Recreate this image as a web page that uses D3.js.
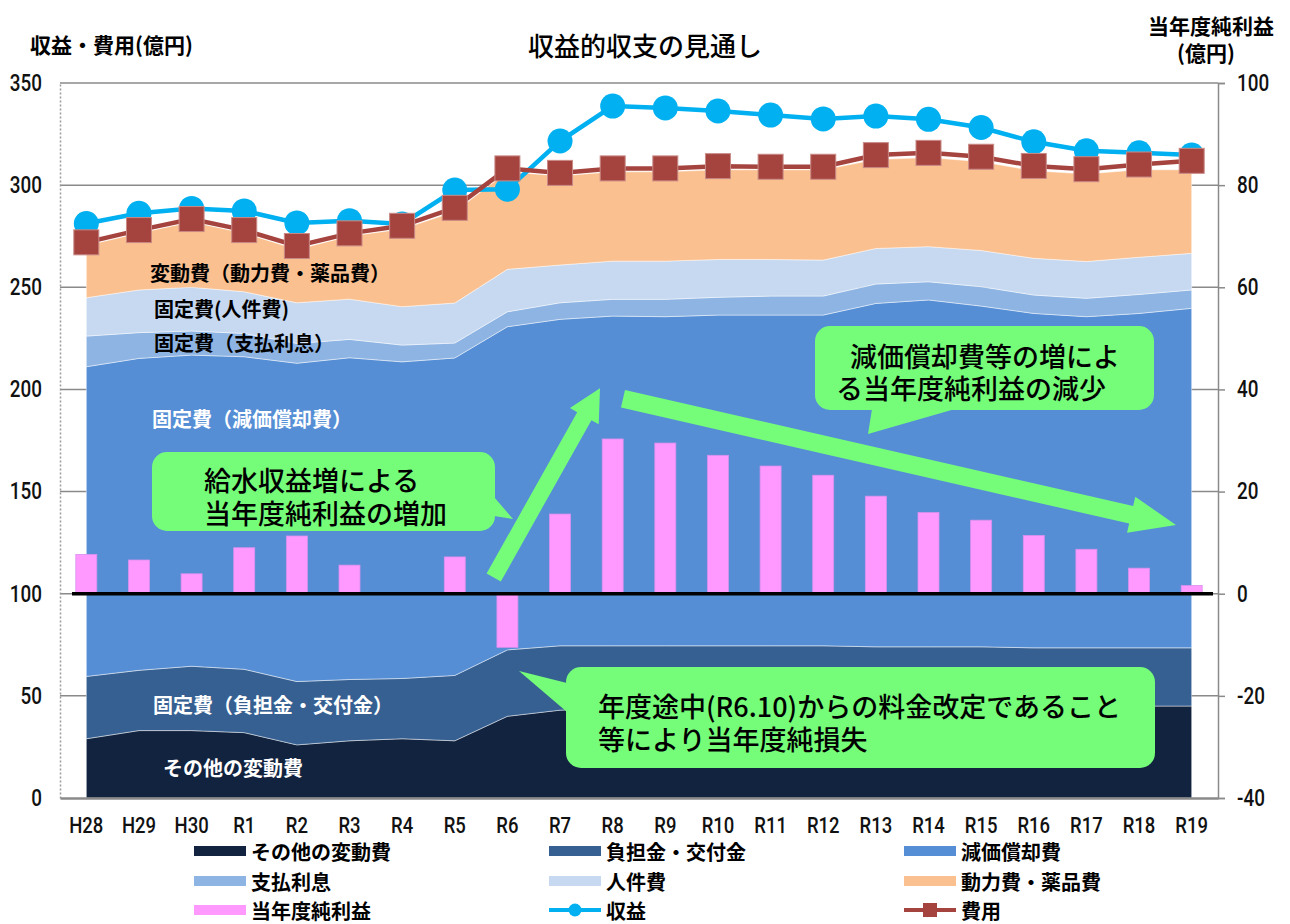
<!DOCTYPE html>
<html>
<head>
<meta charset="utf-8">
<script src="https://cdn.jsdelivr.net/npm/d3@7"></script>
<style>
  body { margin: 0; background: #fff; }
  svg text { font-family: "Noto Sans CJK JP", sans-serif; }
  .num { font-family: "Roboto", "Liberation Sans", sans-serif; font-weight: 500; }
</style>
</head>
<body>
<svg id="chart"></svg>
<script>
// ---- data (億円) ----
var categories = ["H28","H29","H30","R1","R2","R3","R4","R5","R6","R7","R8","R9","R10","R11","R12","R13","R14","R15","R16","R17","R18","R19"];

var otherVariable = [29, 33, 33, 32, 26, 28, 29, 28, 40, 43, 44, 45, 45, 45, 45, 45, 45, 45, 45, 45, 45, 45];
var burdenGrant   = [30.5, 29.5, 31.5, 31, 31, 30, 29.5, 32, 32.5, 31.5, 30.5, 29.5, 29.5, 29.5, 29.5, 29, 29, 29, 28.5, 28.5, 28.5, 28.5];
var depreciation  = [151.6, 152.7, 152.3, 153, 155.8, 157.5, 155, 155.4, 158.2, 159.8, 161.4, 161.1, 161.9, 161.9, 161.9, 168.1, 169.8, 166.8, 163.7, 162.1, 163.7, 166.2];
var interest      = [15, 12.6, 11.8, 11.4, 9.7, 9, 8.2, 7.3, 7.3, 8.1, 8.2, 8.5, 8.7, 9.3, 9.3, 9.5, 8.9, 9.5, 9, 9, 9.3, 9];
var personnel     = [18.8, 20.9, 21.4, 20.4, 19.9, 19.7, 18.8, 19.6, 20.8, 18.5, 18.7, 18.7, 18.5, 17.9, 17.6, 17.4, 17.2, 17.7, 18, 18, 18.2, 17.9];
var powerChem     = [25.6, 27.8, 32, 28.7, 26.1, 30.8, 38, 44.7, 47.7, 43.6, 43.7, 43.7, 43.9, 43.9, 44.2, 43.5, 43.6, 43.5, 42.8, 42.9, 42.8, 40.9];

var revenue = [281.2, 286.2, 288.6, 287.4, 281.5, 282.6, 281, 297.6, 298, 321.6, 338.7, 337.8, 336.3, 334.3, 332.4, 333.8, 332.2, 328.2, 321.2, 316.8, 315.8, 314.7];
var expense = [272, 278, 283.4, 278, 270.2, 276.4, 280.1, 288.9, 308.2, 306, 308.2, 308.2, 309.3, 309, 309, 314.7, 315.8, 313.9, 309.4, 307.8, 310.1, 311.9];
var netIncome = [7.7, 6.6, 3.9, 9.0, 11.3, 5.6, 0, 7.2, -10.5, 15.6, 30.3, 29.5, 27.1, 25.0, 23.2, 19.1, 15.9, 14.4, 11.4, 8.7, 5.0, 1.6];

var leftTicks = [0, 50, 100, 150, 200, 250, 300, 350];
var rightTicks = [-40, -20, 0, 20, 40, 60, 80, 100];

// ---- layout ----
var svgWidth = 1290, svgHeight = 924;
var plot = { left: 60, right: 1218, top: 83, bottom: 798 };

var svg = d3.select("#chart").attr("width", svgWidth).attr("height", svgHeight);

var xScale = d3.scaleBand().domain(categories).range([plot.left, plot.right]).padding(0);
function cx(c) { return xScale(c) + xScale.bandwidth() / 2; }
var yScale = d3.scaleLinear().domain([0, 350]).range([plot.bottom, plot.top]);
var y2Scale = d3.scaleLinear().domain([-40, 100]).range([plot.bottom, plot.top]);

// squeeze numbers to look like the narrow font of the original
function condense(sel, f) {
  sel.each(function () {
    var w = this.getComputedTextLength();
    d3.select(this).attr("textLength", w * f).attr("lengthAdjust", "spacingAndGlyphs");
  });
}

var layers = [
  { key: "other", values: otherVariable, color: "#12233f" },
  { key: "burden", values: burdenGrant, color: "#366092" },
  { key: "dep", values: depreciation, color: "#558ed5" },
  { key: "interest", values: interest, color: "#8eb4e3" },
  { key: "personnel", values: personnel, color: "#c6d9f1" },
  { key: "power", values: powerChem, color: "#fac090" }
];

var table = categories.map(function (c, i) {
  var row = { cat: c };
  layers.forEach(function (l) { row[l.key] = l.values[i]; });
  return row;
});
var stacked = d3.stack().keys(layers.map(function (l) { return l.key; }))(table);

// gridlines
svg.append("g").selectAll("line").data(leftTicks.filter(function (d) { return d > 0; }))
  .enter().append("line")
  .attr("x1", plot.left).attr("x2", plot.right)
  .attr("y1", function (d) { return yScale(d); }).attr("y2", function (d) { return yScale(d); })
  .attr("stroke", "#8a8a8a").attr("stroke-width", 1.5);

// areas
var area = d3.area()
  .x(function (d) { return cx(d.data.cat); })
  .y0(function (d) { return yScale(d[0]); })
  .y1(function (d) { return yScale(d[1]); });

svg.append("g").selectAll("path").data(stacked).enter().append("path")
  .attr("d", area)
  .attr("fill", function (d, i) { return layers[i].color; })
  .attr("stroke", "#ffffff").attr("stroke-opacity", 0.45).attr("stroke-width", 1);

// left axis (dotted line)
var leftAxis = svg.append("g").attr("transform", "translate(" + plot.left + ",0)")
  .call(d3.axisLeft(yScale).tickValues(leftTicks).tickSize(0).tickPadding(18));
leftAxis.select(".domain").attr("stroke", "#9a9a9a").attr("stroke-width", 1.5).attr("stroke-dasharray", "2,2");
leftAxis.selectAll("text").attr("class", "num").style("font-size", "23px").attr("fill", "#111");
condense(leftAxis.selectAll("text"), 0.82);

// right axis
var rightAxis = svg.append("g").attr("transform", "translate(" + plot.right + ",0)")
  .call(d3.axisRight(y2Scale).tickValues(rightTicks).tickSize(7).tickPadding(12)
    .tickFormat(function (d) { return d < 0 ? "-" + Math.abs(d) : d; }));
rightAxis.select(".domain").attr("stroke", "#8a8a8a").attr("stroke-width", 1.5);
rightAxis.selectAll("line").attr("stroke", "#8a8a8a").attr("stroke-width", 1.5);
rightAxis.selectAll("text").attr("class", "num").style("font-size", "23px").attr("fill", "#111");
condense(rightAxis.selectAll("text"), 0.82);

// bottom axis
var bottomAxis = svg.append("g").attr("transform", "translate(0," + plot.bottom + ")")
  .call(d3.axisBottom(xScale).tickSize(0).tickPadding(19));
bottomAxis.select(".domain").attr("stroke", "#8a8a8a").attr("stroke-width", 2.5);
bottomAxis.selectAll("text").attr("class", "num").style("font-size", "22px").attr("fill", "#111");
condense(bottomAxis.selectAll("text"), 0.84);

// net income bars
var barW = 21;
svg.append("g").selectAll("rect").data(categories).enter().append("rect")
  .attr("x", function (c) { return cx(c) - barW / 2; })
  .attr("width", barW)
  .attr("y", function (c, i) { return y2Scale(Math.max(0, netIncome[i])); })
  .attr("height", function (c, i) { return Math.abs(y2Scale(netIncome[i]) - y2Scale(0)); })
  .attr("fill", "#ff99ff").attr("stroke", "#d990ee").attr("stroke-width", 0.8);

// zero line
svg.append("line").attr("x1", 72).attr("x2", 1213)
  .attr("y1", y2Scale(0)).attr("y2", y2Scale(0))
  .attr("stroke", "#000").attr("stroke-width", 3.5);

// revenue / expense lines
var line = d3.line().x(function (d) { return cx(d.c); }).y(function (d) { return yScale(d.v); });
var revPts = categories.map(function (c, i) { return { c: c, v: revenue[i] }; });
var expPts = categories.map(function (c, i) { return { c: c, v: expense[i] }; });

svg.append("path").attr("d", line(revPts)).attr("fill", "none")
  .attr("stroke", "#00b0f0").attr("stroke-width", 4.5);
svg.append("g").selectAll("circle").data(revPts).enter().append("circle")
  .attr("cx", function (d) { return cx(d.c); }).attr("cy", function (d) { return yScale(d.v); })
  .attr("r", 12.5).attr("fill", "#00b0f0");

svg.append("path").attr("d", line(expPts)).attr("fill", "none")
  .attr("stroke", "#a5443f").attr("stroke-width", 4.5);
svg.append("g").selectAll("rect").data(expPts).enter().append("rect")
  .attr("x", function (d) { return cx(d.c) - 12.5; }).attr("y", function (d) { return yScale(d.v) - 12.5; })
  .attr("width", 25).attr("height", 25)
  .attr("fill", "#a5443f").attr("stroke", "#c98a86").attr("stroke-width", 1);

// area labels
var areaLabels = [
  { text: "変動費（動力費・薬品費）", x: 150, y: 272, color: "#000" },
  { text: "固定費(人件費)", x: 154, y: 308, color: "#000" },
  { text: "固定費（支払利息）", x: 154, y: 342, color: "#000" },
  { text: "固定費（減価償却費）", x: 152, y: 418, color: "#fff" },
  { text: "固定費（負担金・交付金）", x: 153, y: 704, color: "#fff" },
  { text: "その他の変動費", x: 163, y: 767, color: "#fff" }
];
svg.append("g").selectAll("text").data(areaLabels).enter().append("text")
  .attr("x", function (d) { return d.x; }).attr("y", function (d) { return d.y; })
  .attr("dominant-baseline", "central")
  .style("font-size", "20px").style("font-weight", 700)
  .attr("fill", function (d) { return d.color; })
  .text(function (d) { return d.text; });

// annotations (green callouts and arrows)
var green = "#75fd79";
function arrowPath(tail, tip, shaftW, headW, headL) {
  var dx = tip[0] - tail[0], dy = tip[1] - tail[1];
  var len = Math.sqrt(dx * dx + dy * dy);
  var ux = dx / len, uy = dy / len, nx = -uy, ny = ux;
  var bx = tip[0] - ux * headL, by = tip[1] - uy * headL;
  var p = [
    [tail[0] + nx * shaftW / 2, tail[1] + ny * shaftW / 2],
    [bx + nx * shaftW / 2, by + ny * shaftW / 2],
    [bx + nx * headW / 2, by + ny * headW / 2],
    tip,
    [bx - nx * headW / 2, by - ny * headW / 2],
    [bx - nx * shaftW / 2, by - ny * shaftW / 2],
    [tail[0] - nx * shaftW / 2, tail[1] - ny * shaftW / 2]
  ];
  return "M" + p.map(function (q) { return q[0] + "," + q[1]; }).join("L") + "Z";
}
var ann = svg.append("g");
ann.append("path").attr("d", arrowPath([493.7, 577.5], [600, 388.3], 16.3, 33, 32)).attr("fill", green);
ann.append("path").attr("d", arrowPath([623, 398.8], [1176, 525], 18, 37, 46)).attr("fill", green);

var callouts = [
  { box: [152, 452, 343, 79], ptr: [[494, 497], [513, 519], [494, 516]],
    lines: [{ t: "給水収益増による", x: 204, y: 479 }, { t: "当年度純利益の増加", x: 204, y: 512 }] },
  { box: [815, 326, 339, 84], ptr: [[872, 409], [868, 434], [955, 409]],
    lines: [{ t: "減価償却費等の増によ", x: 850, y: 355 }, { t: "る当年度純利益の減少", x: 836, y: 387 }] },
  { box: [566, 667, 589, 101], ptr: [[567, 683], [519, 671], [567, 712]],
    lines: [{ t: "年度途中(R6.10)からの料金改定であること", x: 598, y: 705 }, { t: "等により当年度純損失", x: 598, y: 738 }] }
];
callouts.forEach(function (c) {
  ann.append("rect").attr("x", c.box[0]).attr("y", c.box[1]).attr("width", c.box[2]).attr("height", c.box[3])
    .attr("rx", 15).attr("fill", green);
  ann.append("polygon").attr("points", c.ptr.map(function (q) { return q.join(","); }).join(" ")).attr("fill", green);
  c.lines.forEach(function (l) {
    ann.append("text").attr("x", l.x).attr("y", l.y).attr("dominant-baseline", "central")
      .style("font-size", "27px").style("font-weight", 500).attr("fill", "#000").text(l.t);
  });
});

// titles
svg.append("text").attr("x", 645).attr("y", 44).attr("text-anchor", "middle").attr("dominant-baseline", "central")
  .style("font-size", "26px").style("font-weight", 500).text("収益的収支の見通し");
svg.append("text").attr("x", 30).attr("y", 44).attr("dominant-baseline", "central")
  .style("font-size", "21px").style("font-weight", 700).text("収益・費用(億円)");
svg.append("text").attr("x", 1211).attr("y", 25).attr("text-anchor", "middle").attr("dominant-baseline", "central")
  .style("font-size", "21px").style("font-weight", 700).text("当年度純利益");
svg.append("text").attr("x", 1206).attr("y", 52).attr("text-anchor", "middle").attr("dominant-baseline", "central")
  .style("font-size", "21px").style("font-weight", 700).text("(億円)");

// legend
var legendCols = [194, 549, 904];
var legendRows = [851, 881, 910];
var legendItems = [
  { name: "その他の変動費", type: "rect", color: "#12233f", col: 0, row: 0 },
  { name: "負担金・交付金", type: "rect", color: "#366092", col: 1, row: 0 },
  { name: "減価償却費", type: "rect", color: "#558ed5", col: 2, row: 0 },
  { name: "支払利息", type: "rect", color: "#8eb4e3", col: 0, row: 1 },
  { name: "人件費", type: "rect", color: "#c6d9f1", col: 1, row: 1 },
  { name: "動力費・薬品費", type: "rect", color: "#fac090", col: 2, row: 1 },
  { name: "当年度純利益", type: "rect", color: "#ff99ff", col: 0, row: 2 },
  { name: "収益", type: "circle", color: "#00b0f0", col: 1, row: 2 },
  { name: "費用", type: "square", color: "#a5443f", col: 2, row: 2 }
];
var legend = svg.append("g");
legendItems.forEach(function (d) {
  var x = legendCols[d.col], y = legendRows[d.row];
  var g = legend.append("g").attr("transform", "translate(" + x + "," + y + ")");
  if (d.type === "rect") {
    g.append("rect").attr("x", 0).attr("y", -5).attr("width", 52).attr("height", 10).attr("fill", d.color);
  } else {
    g.append("line").attr("x1", 0).attr("x2", 52).attr("y1", 0).attr("y2", 0)
      .attr("stroke", d.color).attr("stroke-width", 4);
    if (d.type === "circle") g.append("circle").attr("cx", 26).attr("cy", 0).attr("r", 6.5).attr("fill", d.color);
    else g.append("rect").attr("x", 19).attr("y", -7).attr("width", 14).attr("height", 14).attr("fill", d.color);
  }
  g.append("text").attr("x", 57).attr("y", 0).attr("dominant-baseline", "central")
    .style("font-size", "20px").style("font-weight", 700).text(d.name);
});
</script>
</body>
</html>
